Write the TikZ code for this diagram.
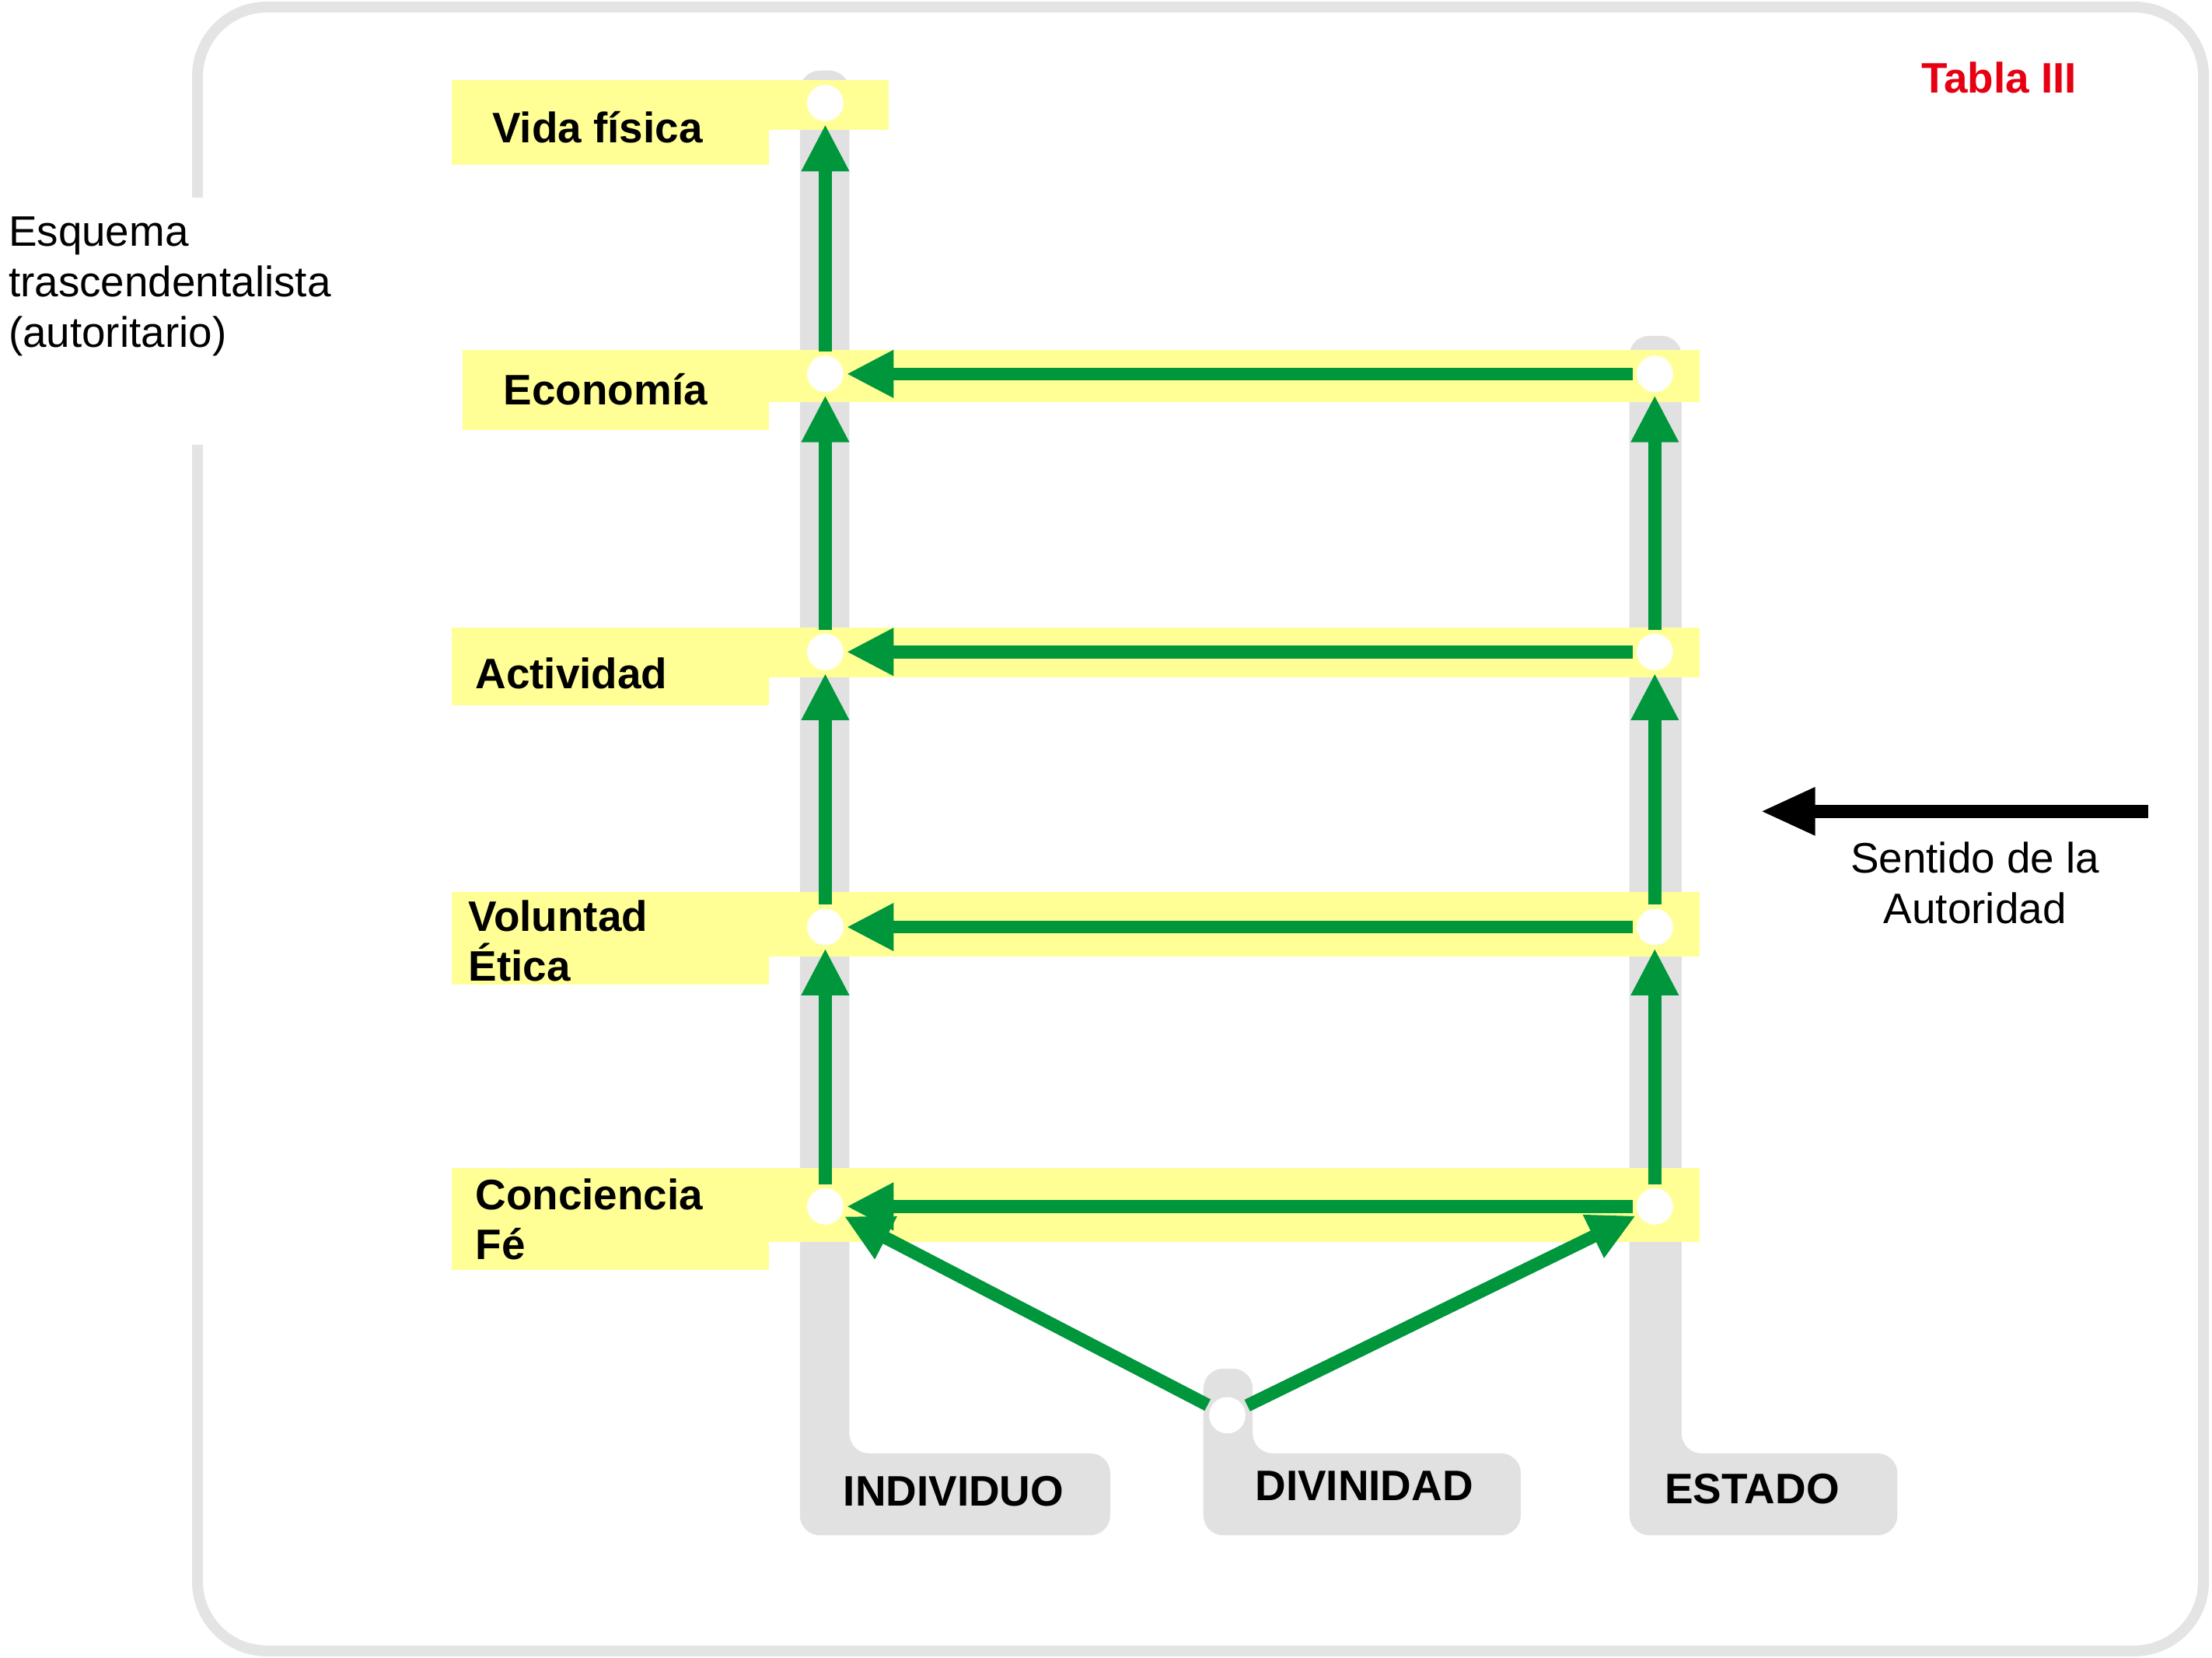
\documentclass[tikz,border=0pt]{standalone}
\usepackage{fontspec}
\setmainfont{Liberation Sans}
\usetikzlibrary{arrows.meta}
\definecolor{gbar}{RGB}{225,225,225}
\definecolor{yel}{RGB}{255,255,150}
\definecolor{grn}{RGB}{0,150,60}
\definecolor{frame}{RGB}{228,228,228}
\tikzset{
  bar/.style={fill=gbar,draw=none},
  band/.style={fill=yel,draw=none},
  dot/.style={circle,fill=white,draw=none,minimum size=8.5cm/3.3,inner sep=0pt},
  garrow/.style={draw=grn,line width=26pt,-{Triangle[length=95pt,width=90pt]},shorten >=6pt,shorten <=8pt},
  lab/.style={font=\fontsize{86}{100}\selectfont\bfseries,anchor=west,align=left,inner sep=0pt},
  blab/.style={font=\fontsize{86}{100}\selectfont\bfseries,inner sep=0pt}
}
\begin{document}
\begin{tikzpicture}[x=0.1cm,y=-0.1cm]
\useasboundingbox (0,0) rectangle (1568,1175);
\fill[white] (0,0) rectangle (1568,1175);
% frame
\draw[frame,line width=22pt,rounded corners=140pt] (140,140) -- (140,5) -- (1562,5) -- (1562,1170) -- (140,1170) -- (140,315);
% gray bars
\fill[bar,rounded corners=40pt] (567,1088) -- (567,50) -- (602,50) -- (602,1030) -- (787,1030) -- (787,1088) -- cycle;
\fill[bar,rounded corners=40pt] (1155,1088) -- (1155,238) -- (1192,238) -- (1192,1030) -- (1345,1030) -- (1345,1088) -- cycle;
\fill[bar,rounded corners=40pt] (853,1088) -- (853,970) -- (888,970) -- (888,1030) -- (1078,1030) -- (1078,1088) -- cycle;
% yellow bands
\fill[band] (320,57) rectangle (545,117);
\fill[band] (545,57) rectangle (630,92);
\fill[band] (328,248) rectangle (545,305);
\fill[band] (545,248) rectangle (1205,285);
\fill[band] (320,445) rectangle (545,500);
\fill[band] (545,445) rectangle (1205,480);
\fill[band] (320,632) rectangle (545,698);
\fill[band] (545,632) rectangle (1205,678);
\fill[band] (320,828) rectangle (545,900);
\fill[band] (545,828) rectangle (1205,880);
% dots
\node[dot] (i0) at (585,73) {};
\node[dot] (i1) at (585,265) {};
\node[dot] (i2) at (585,462) {};
\node[dot] (i3) at (585,657) {};
\node[dot] (i4) at (585,855) {};
\node[dot] (e1) at (1173,265) {};
\node[dot] (e2) at (1173,462) {};
\node[dot] (e3) at (1173,657) {};
\node[dot] (e4) at (1173,855) {};
\node[dot] (d) at (870,1003) {};
% arrows
\draw[garrow] (i1) -- (i0);
\draw[garrow] (i2) -- (i1);
\draw[garrow] (i3) -- (i2);
\draw[garrow] (i4) -- (i3);
\draw[garrow] (e2) -- (e1);
\draw[garrow] (e3) -- (e2);
\draw[garrow] (e4) -- (e3);
\draw[garrow] (e1) -- (i1);
\draw[garrow] (e2) -- (i2);
\draw[garrow] (e3) -- (i3);
\draw[garrow] (e4) -- (i4);
\draw[garrow] (d) -- (i4);
\draw[garrow] (d) -- (e4);
% black arrow
\coordinate (ba) at (1523,575);
\coordinate (bb) at (1248,575);
\draw[line width=26pt,-{Triangle[length=110pt,width=90pt]}] (ba) -- (bb);
% labels
\node[lab] (t0) at (349,90) {Vida física};
\node[lab] (t1) at (357,276) {Economía};
\node[lab] (t2) at (337,477) {Actividad};
\node[lab,font=\fontsize{86}{100}\selectfont\bfseries] (t3) at (332,667) {Voluntad\\Ética};
\node[lab,font=\fontsize{86}{100}\selectfont\bfseries] (t4) at (337,864) {Conciencia\\Fé};
\node[blab] (ind) at (676,1057) {INDIVIDUO};
\node[blab] (div) at (967,1053) {DIVINIDAD};
\node[blab] (est) at (1242,1055) {ESTADO};
\node[font=\fontsize{86}{102}\selectfont,align=center,inner sep=0pt] (sa) at (1400,626) {Sentido de la\\Autoridad};
\node[font=\fontsize{86}{100}\selectfont\bfseries,text={rgb,255:red,230;green,0;blue,18},inner sep=0pt] (tab) at (1417,55) {Tabla III};
\node[font=\fontsize{86}{102}\selectfont,align=left,anchor=west,inner sep=0pt] (esq) at (6,203) {Esquema\\trascendentalista\\(autoritario)};
\end{tikzpicture}
\end{document}
